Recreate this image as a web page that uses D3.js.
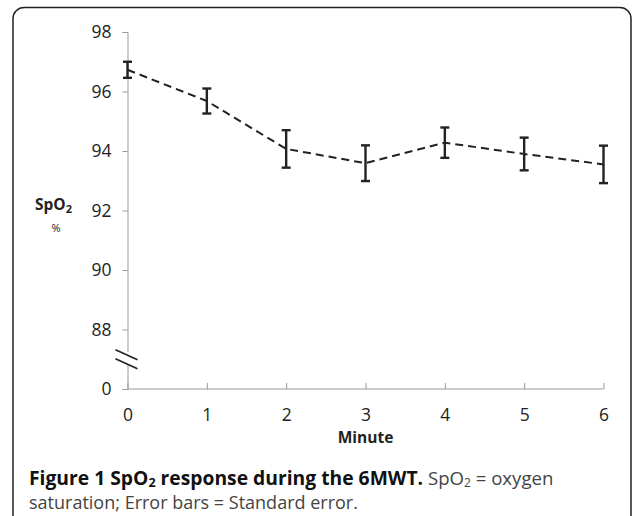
<!DOCTYPE html>
<html lang="en">
<head>
  <meta charset="UTF-8">
  <title>SpO2 response during the 6MWT</title>
  <script src="https://d3js.org/d3.v7.min.js"></script>
  <style>
    body { margin: 0; background: #fff; font-family: "Open Sans", sans-serif; }
    svg { display: block; }
    .tick text { font-family: "Open Sans", sans-serif; fill: #222; }
  </style>
</head>
<body>
  <script>
    // data
    const minutes = [0, 1, 2, 3, 4, 5, 6];
    const spo2Mean = [96.73, 95.68, 94.07, 93.59, 94.28, 93.9, 93.55];
    const spo2SE = [0.27, 0.42, 0.63, 0.6, 0.51, 0.55, 0.63];
    // the axis is broken: the lowest tick stands for 0
    const yTicks = [86, 88, 90, 92, 94, 96, 98];
    const yTickLabels = ["0", "88", "90", "92", "94", "96", "98"];

    const width = 632, height = 516;

    const svg = d3.select("body").append("svg")
      .attr("width", width)
      .attr("height", height);

    // rounded frame
    svg.append("rect")
      .attr("x", 13).attr("y", 7.5)
      .attr("width", 618).attr("height", 520)
      .attr("rx", 11)
      .attr("fill", "none")
      .attr("stroke", "#222")
      .attr("stroke-width", 1.5);

    const x = d3.scaleLinear().domain([0, 6]).range([127.5, 603.5]);
    const y = d3.scaleLinear().domain([86, 98]).range([389, 32]);

    // y axis
    const yAxis = svg.append("g")
      .attr("transform", `translate(${x(0)},0)`)
      .call(d3.axisLeft(y)
        .tickValues(yTicks)
        .tickFormat((d, i) => yTickLabels[i])
        .tickSize(5)
        .tickPadding(11));
    yAxis.selectAll("path, line").attr("stroke", "#999");
    yAxis.selectAll("text").attr("font-size", 17.5);

    // x axis, ticks pointing up
    const xAxis = svg.append("g")
      .attr("transform", `translate(0,${y(86)})`)
      .call(d3.axisBottom(x)
        .tickValues(minutes)
        .tickFormat(d3.format("d"))
        .tickSize(-6)
        .tickPadding(20));
    xAxis.select(".domain").attr("d", `M${x(0)},0H${x(6)}`);
    xAxis.selectAll("path, line").attr("stroke", "#999");
    xAxis.selectAll("text").attr("font-size", 17.5);

    // break marks on the y axis
    const brk = (y(88) + y(86)) / 2;
    svg.append("rect")
      .attr("x", x(0) - 1.5).attr("y", brk - 7)
      .attr("width", 3).attr("height", 12)
      .attr("fill", "#fff");
    [-4.5, 4.5].forEach(dy => {
      svg.append("line")
        .attr("x1", x(0) - 12).attr("y1", brk + dy - 5)
        .attr("x2", x(0) + 10).attr("y2", brk + dy + 5)
        .attr("stroke", "#222")
        .attr("stroke-width", 1.6);
    });

    // dashed mean line
    svg.append("path")
      .datum(minutes)
      .attr("fill", "none")
      .attr("stroke", "#222")
      .attr("stroke-width", 2)
      .attr("stroke-dasharray", "8,5")
      .attr("d", d3.line().x(d => x(d)).y((d, i) => y(spo2Mean[i])));

    // error bars
    const eb = svg.append("g")
      .attr("stroke", "#222")
      .attr("stroke-width", 2.4)
      .selectAll("g")
      .data(minutes)
      .join("g");
    eb.append("line")
      .attr("x1", d => x(d)).attr("x2", d => x(d))
      .attr("y1", (d, i) => y(spo2Mean[i] + spo2SE[i]))
      .attr("y2", (d, i) => y(spo2Mean[i] - spo2SE[i]));
    [1, -1].forEach(s => {
      eb.append("line")
        .attr("x1", d => x(d) - 4.5).attr("x2", d => x(d) + 4.5)
        .attr("y1", (d, i) => y(spo2Mean[i] + s * spo2SE[i]))
        .attr("y2", (d, i) => y(spo2Mean[i] + s * spo2SE[i]));
    });

    // axis titles
    svg.append("text")
      .attr("x", x(3)).attr("y", 443)
      .attr("text-anchor", "middle")
      .attr("font-size", 15.5)
      .attr("font-weight", "bold")
      .attr("fill", "#222")
      .text("Minute");

    const yt = svg.append("text")
      .attr("x", 35).attr("y", 210)
      .attr("font-size", 15.5)
      .attr("font-weight", "bold")
      .attr("fill", "#222");
    yt.append("tspan").text("SpO");
    yt.append("tspan").attr("font-size", 11).attr("dy", 3).text("2");

    svg.append("text")
      .attr("x", 56).attr("y", 232)
      .attr("text-anchor", "middle")
      .attr("font-size", 11)
      .attr("fill", "#222")
      .text("%");

    // caption, two wrapped lines in one text element
    const cap = svg.append("text")
      .attr("x", 29).attr("y", 485)
      .attr("font-size", 18.6)
      .attr("fill", "#444");
    const bold = s => cap.append("tspan")
      .attr("font-weight", "bold").attr("fill", "#111").attr("font-size", 19.3).text(s);
    bold("Figure 1 SpO");
    bold("2").attr("font-size", 12.5).attr("dy", 2);
    bold(" response during the 6MWT.").attr("dy", -2);
    cap.append("tspan").text(" SpO");
    cap.append("tspan").attr("font-size", 12).attr("dy", 2).text("2");
    cap.append("tspan").attr("dy", -2).text(" = oxygen");
    cap.append("tspan")
      .attr("x", 29).attr("dy", 24)
      .attr("font-size", 18)
      .text("saturation; Error bars = Standard error.");
  </script>
</body>
</html>
